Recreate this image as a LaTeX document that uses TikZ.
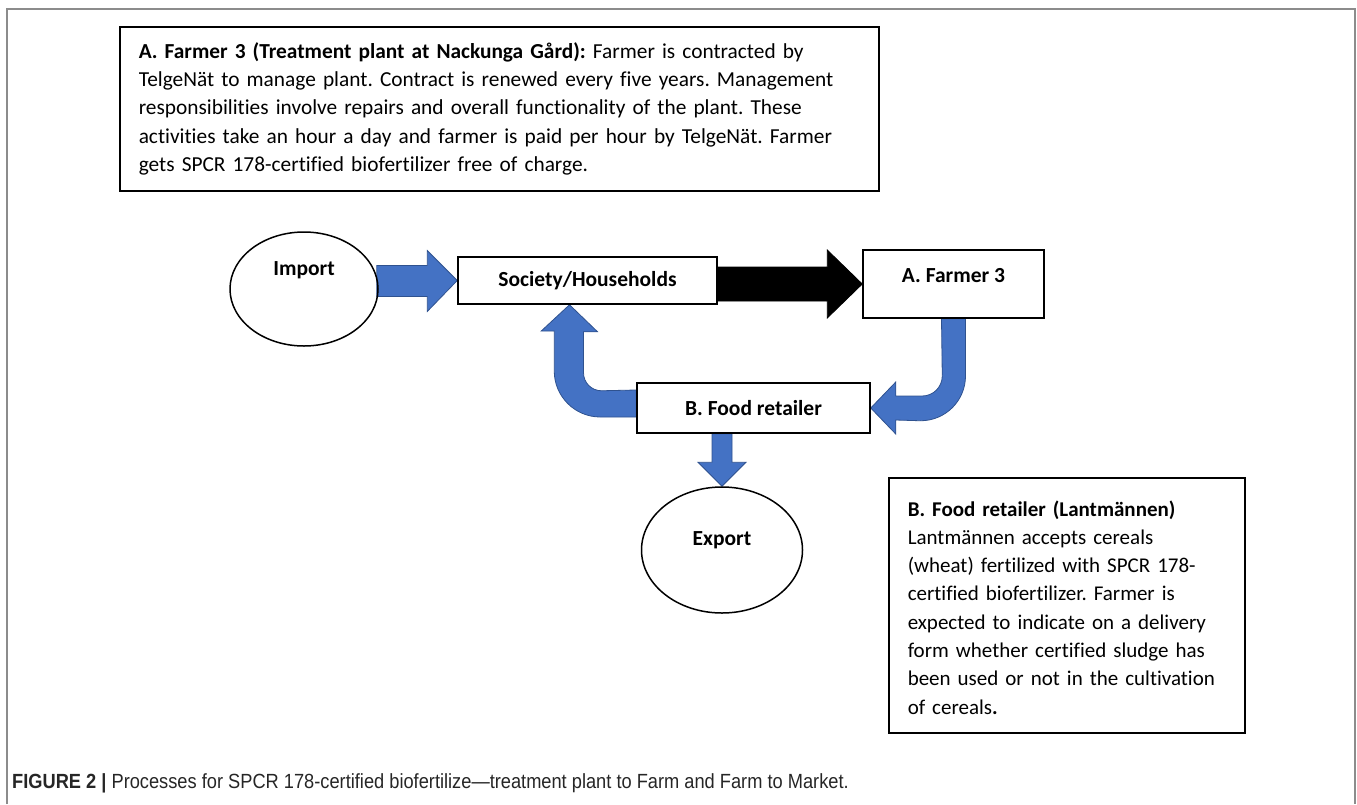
\documentclass[tikz,border=0pt]{standalone}
\usepackage{fontspec}
\setmainfont{Carlito}[Ligatures={NoCommon}]
\newfontfamily\capfont[FakeStretch=0.89]{Liberation Sans}
\usetikzlibrary{shapes.geometric,positioning,calc,backgrounds}
\definecolor{flowblue}{HTML}{4472C4}
\definecolor{flowedge}{HTML}{2F528F}
\definecolor{framegray}{HTML}{8C8C8C}
\newcommand{\notesize}{\fontsize{21.35}{28.2}\selectfont}
\frenchspacing
\tikzset{
  box/.style  ={draw=black,line width=1.5pt,font=\fontsize{21.5}{26}\selectfont\bfseries,inner sep=0pt},
  oval/.style ={ellipse,draw=black,line width=1.5pt,inner sep=0pt},
  olab/.style ={font=\fontsize{21.5}{26}\selectfont\bfseries},
  note/.style ={draw=black,line width=1.5pt,align=left,font=\notesize,inner xsep=19pt,
                anchor=north west},
  flow/.style ={fill=flowblue,draw=flowedge,line width=.8pt},
  push/.style ={fill=black,draw=black,line width=.8pt},
  frm/.style  ={draw=framegray,line width=1.8pt},
}

\begin{document}
\begin{tikzpicture}[x=1pt,y=-1pt]
  \useasboundingbox (0,0) rectangle (1357,804);
  \draw[frm] (7,804) -- (7,9) -- (1355,9) -- (1355,804);

  % notes
  \node[note,text width=721pt,minimum width=759pt,minimum height=164pt] (noteA) at (119,26)
        {\textbf{A. Farmer 3 (Treatment plant at Nackunga Gård):} Farmer is contracted by\\
         TelgeNät to manage plant. Contract is renewed every five years. Management\\
         responsibilities involve repairs and overall functionality of the plant. These\\
         activities take an hour a day and farmer is paid per hour by TelgeNät. Farmer\\
         gets SPCR 178-certified biofertilizer free of charge.};
  \node[note,font=\fontsize{21}{28.3}\selectfont,text width=318pt,minimum width=356pt,
        minimum height=255pt,text depth=194pt] (noteB) at (888,477)
        {\textbf{B. Food retailer (Lantmännen)}\\
         Lantmännen accepts cereals\\
         (wheat) fertilized with SPCR 178-\\
         certified biofertilizer. Farmer is\\
         expected to indicate on a delivery\\
         form whether certified sludge has\\
         been used or not in the cultivation\\
         of cereals\textbf{.}};

  % flow nodes
  \node[oval,minimum width=148pt,minimum height=114pt,
        label={[olab,yshift=19pt]center:Import}] (imp) at (304,289) {};
  \node[box,minimum width=259pt,minimum height=47pt] (soc) at (587.5,280.5) {Society/Households};
  \node[box,minimum width=181pt,text height=32pt,text depth=36pt,minimum height=0pt] (far)
        at (953.5,284) {A. Farmer 3};
  \node[box,minimum width=233pt,minimum height=50pt] (ret) at (753.5,408) {B. Food retailer};
  \node[oval,minimum width=161pt,minimum height=126pt,
        label={[olab,yshift=10pt]center:Export}] (exp) at (722,550) {};

  % block arrows
  \begin{scope}[on background layer]
    \filldraw[flow] (soc.west) -- ++(-30,-30) -- ++(0,15) -- ($(imp.east |- soc.west)+(-2,-15)$)
          -- ++(0,31) -- ($(soc.west)+(-30,16)$) -- ++(0,15) -- cycle;
    \filldraw[push] (far.west) -- ++(-35,-34) -- ++(0,17) -- ($(soc.east |- far.west)+(0,-17)$)
          -- ++(0,34) -- ($(far.west)+(-35,17)$) -- ++(0,17) -- cycle;
    \filldraw[flow] ($(far.south)+(12,0)$) -- ++(0,57) .. controls +(0,25) and +(25,0) .. ++(-45,45)
          -- ($(ret.east)+(25,12)$) -- ++(0,14) -- (ret.east) -- ++(25,-26) -- ++(0,14)
          -- ++(26.5,0) .. controls +(11,0) and +(0,11) .. ++(20,-20) -- ($(far.south)+(-12,0)$) -- cycle;
    \filldraw[flow] ($(soc.south)+(-18,0)$) -- ++(28,27) -- ++(-14,0) -- ++(0,41)
          .. controls +(0,10) and +(-10,0) .. ++(18,18) -- ($(ret.west)+(0,-18)$) -- ++(0,27)
          -- ++(-36,0) .. controls +(-25.4,0) and +(0,25.4) .. ++(-46,-46) -- ++(0,-40) -- ++(-13,0) -- cycle;
    \filldraw[flow] (exp.north) -- ++(-24,-24) -- ++(14,0) -- ($(exp.north |- ret.south)+(-10,0)$)
          -- ++(20,0) -- ($(exp.north)+(10,-24)$) -- ++(14,0) -- cycle;
  \end{scope}

  % caption
  \node[font=\capfont\fontsize{20.5}{24}\selectfont,text=black!85,anchor=base west,inner sep=0pt]
        (cap) at (12,788)
        {\textbf{FIGURE 2 |} Processes for SPCR 178-certified biofertilize—treatment plant to Farm and Farm to Market.};
\end{tikzpicture}
\end{document}
